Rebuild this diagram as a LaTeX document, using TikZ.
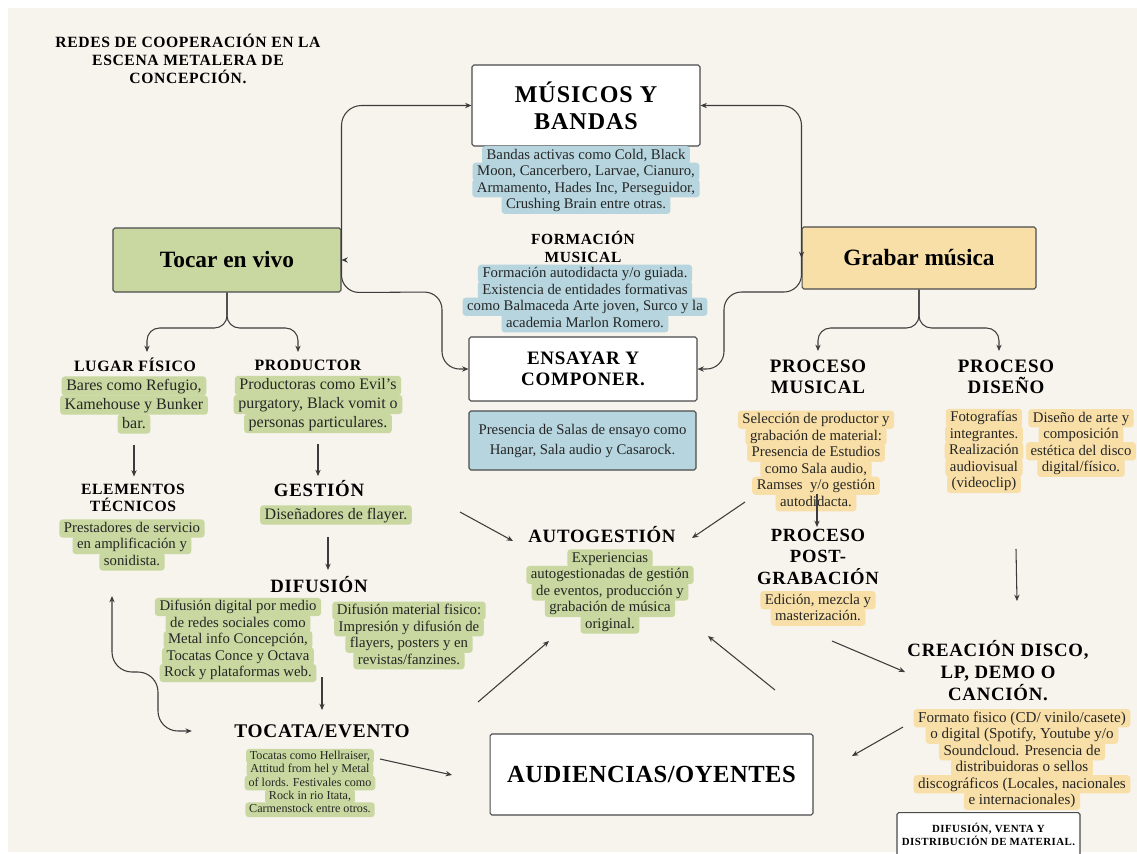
\documentclass[tikz,border=0pt]{standalone}
\usepackage{fontspec}
\setmainfont{Liberation Serif}
\newfontfamily\headfont[LetterSpace=4]{Liberation Serif}
\newfontfamily\bigfont[LetterSpace=2]{Liberation Serif}
\usepackage{tikz}
\usetikzlibrary{arrows.meta}
\usetikzlibrary{matrix}

\definecolor{papel}{RGB}{247,243,237}
\definecolor{verde}{RGB}{200,216,160}
\definecolor{azul}{RGB}{182,213,222}
\definecolor{amarillo}{RGB}{248,223,167}
\definecolor{borde}{RGB}{75,75,75}
\definecolor{linea}{RGB}{60,60,60}

\newcommand{\txt}{\fontsize{8.4}{9.4}\selectfont}
\newcommand{\txtsm}{\fontsize{6.9}{7.6}\selectfont}
\newcommand{\txtfo}{\fontsize{8.6}{9.45}\selectfont}
\newcommand{\txtbig}{\fontsize{9.1}{10.8}\selectfont}

\tikzset{
  box/.style={draw=borde, line width=0.6pt, rounded corners=1pt, align=center, inner sep=0pt},
  head/.style 2 args={font={\headfont\bfseries\fontsize{#1}{#2}\selectfont}, align=center, inner sep=0pt},
  hl/.style={matrix of nodes, inner sep=0pt, row sep=-0.9pt,
    nodes={fill=#1, rounded corners=1.8pt, inner xsep=2.6pt, inner ysep=1pt,
      text height=6.3pt, text depth=2pt, font=\txt, text=black!85}},
  hlbig/.style={row sep=-0.2pt, nodes={font=\txtbig, text height=6.8pt, text depth=2.2pt}},
  arr/.style={draw=linea, line width=0.6pt, -{Stealth[length=3.6pt,width=3pt]}},
}

\begin{document}
\begin{tikzpicture}[x=0.02cm, y=-0.02cm]

\useasboundingbox (0,0) rectangle (1137,853);
\fill[white] (0,0) rectangle (1137,853);
\fill[papel] (8,8) rectangle (1137,852);

% titulo
\node[head={8.9}{10.4}] (titulo) at (188,59) {REDES DE COOPERACIÓN EN LA\\ESCENA METALERA DE\\CONCEPCIÓN.};

% centro
\node[box, fill=white, minimum width=4.56cm, minimum height=1.62cm, font={\headfont\bfseries\fontsize{13.7}{15.4}\selectfont}] (musicos) at (586,105.5) {MÚSICOS Y\\BANDAS};
\matrix[hl=azul] (bandas) at (586,180) {
Bandas activas como Cold, Black\\
Moon, Cancerbero, Larvae, Cianuro,\\
Armamento, Hades Inc, Perseguidor,\\
Crushing Brain entre otras.\\
};
\node[head={8.8}{10.2}] (formacion) at (583,247) {FORMACIÓN\\MUSICAL};
\matrix[hl=azul] (formtxt) at (585,298.5) {
Formación autodidacta y/o guiada.\\
Existencia de entidades formativas\\
como Balmaceda Arte joven, Surco y la\\
academia Marlon Romero.\\
};
\node[box, fill=white, minimum width=4.56cm, minimum height=1.28cm, font={\headfont\bfseries\fontsize{10.8}{11.8}\selectfont}] (ensayar) at (583,369) {ENSAYAR Y\\COMPONER.};
\node[box, fill=azul, minimum width=4.54cm, minimum height=1.18cm, font={\fontsize{8.4}{11.4}\selectfont}, text=black!85] (salas) at (582.5,440.5) {Presencia de Salas de ensayo como\\Hangar, Sala audio y Casarock.};

% tocar en vivo
\node[box, fill=verde, minimum width=4.56cm, minimum height=1.28cm, font={\bfseries\fontsize{13.3}{15}\selectfont}] (tocar) at (227,260) {Tocar en vivo};
\node[head={9}{10}] (lugar) at (135,365) {LUGAR FÍSICO};
\matrix[hl=verde, hlbig] (bares) at (134,405) {
Bares como Refugio,\\
Kamehouse y Bunker\\
bar.\\
};
\node[head={9}{10}] (productor) at (308,365) {PRODUCTOR};
\matrix[hl=verde, hlbig] (productoras) at (318,404.5) {
Productoras como Evil’s\\
purgatory, Black vomit o\\
personas particulares.\\
};
\node[head={8.9}{10.1}] (elementos) at (133,498) {ELEMENTOS\\TÉCNICOS};
\matrix[hl=verde] (prestadores) at (132,545) {
Prestadores de servicio\\
en amplificación y\\
sonidista.\\
};
\node[head={10.7}{12}] (gestion) at (319,489) {GESTIÓN};
\matrix[hl=verde, hlbig] (flayer) at (336,515) {
Diseñadores de flayer.\\
};
\node[head={10.7}{12}] (difusion) at (319,585) {DIFUSIÓN};
\matrix[hl=verde] (difdigital) at (238,640) {
Difusión digital por medio\\
de redes sociales como\\
Metal info Concepción,\\
Tocatas Conce y Octava\\
Rock y plataformas web.\\
};
\matrix[hl=verde] (difmaterial) at (409,635.5) {
Difusión material fisico:\\
Impresión y difusión de\\
flayers, posters y en\\
revistas/fanzines.\\
};
\node[head={11}{12}] (tocata) at (322,731) {TOCATA/EVENTO};
\matrix[hl=verde, row sep=-0.8pt, nodes={font=\txtsm, text height=5.2pt, text depth=1.6pt, inner ysep=0.8pt, inner xsep=2.2pt}] (tocatas) at (310,783) {
Tocatas como Hellraiser,\\
Attitud from hel y Metal\\
of lords. Festivales como\\
Rock in rio Itata,\\
Carmenstock entre otros.\\
};
\node[head={10.7}{12}] (autogestion) at (602,535) {AUTOGESTIÓN};
\matrix[hl=verde] (experiencias) at (610,591.5) {
Experiencias\\
autogestionadas de gestión\\
de eventos, producción y\\
grabación de música\\
original.\\
};
\node[box, fill=white, minimum width=6.46cm, minimum height=1.62cm, font={\bigfont\bfseries\fontsize{14}{16}\selectfont}] (audiencias) at (651.5,774.5) {AUDIENCIAS/OYENTES};

% grabar musica
\node[box, fill=amarillo, minimum width=4.68cm, minimum height=1.24cm, font={\bfseries\fontsize{13.3}{15}\selectfont}] (grabar) at (919,258) {Grabar música};
\node[head={10.8}{12}] (procmusical) at (818,376.5) {PROCESO\\MUSICAL};
\matrix[hl=amarillo] (seleccion) at (816,461) {
Selección de productor y\\
grabación de material:\\
Presencia de Estudios\\
como Sala audio,\\
Ramses\ \ y/o gestión\\
autodidacta.\\
};
\node[head={10.8}{12}] (procdiseno) at (1006,376.5) {PROCESO\\DISEÑO};
\matrix[hl=amarillo] (fotos) at (984,451) {
Fotografías\\
integrantes.\\
Realización\\
audiovisual\\
(videoclip)\\
};
\matrix[hl=amarillo] (arte) at (1081,443) {
Diseño de arte y\\
composición\\
estética del disco\\
digital/físico.\\
};
\node[head={10.6}{12.2}] (postgrab) at (818,556.5) {PROCESO\\POST-\\GRABACIÓN};
\matrix[hl=amarillo] (edicion) at (818,608.5) {
Edición, mezcla y\\
masterización.\\
};
\node[head={10.7}{12.5}] (creacion) at (998,671) {CREACIÓN DISCO,\\LP, DEMO O\\CANCIÓN.};
\matrix[hl=amarillo, nodes={font=\txtfo}] (formato) at (1022,759.5) {
Formato fisico (CD/ vinilo/casete)\\
o digital (Spotify, Youtube y/o\\
Soundcloud. Presencia de\\
distribuidoras o sellos\\
discográficos (Locales, nacionales\\
e internacionales)\\
};
\node[box, fill=white, minimum width=3.66cm, minimum height=1.4cm, anchor=north] (venta) at (988.5,812) {};
\node[head={6.2}{7.4}] (ventatxt) at (988.5,834.5) {DIFUSIÓN, VENTA Y\\DISTRIBUCIÓN DE MATERIAL.};

% conectores grandes
\draw[arr, rounded corners=0.4cm] (tocar.east) -- (tocar.east |- musicos.west) -- (musicos.west);
\coordinate (lcurva) at (442,292);
\draw[arr, rounded corners=0.35cm] (tocar.east) -- (tocar.south east) -- (lcurva) -- (lcurva |- ensayar.west) -- (ensayar.west);
\draw[arr] ([xshift=2.5pt]tocar.east) -- (tocar.east);
\draw[arr, rounded corners=0.4cm] (grabar.west) -- (grabar.west |- musicos.east) -- (musicos.east);
\coordinate (rcurva) at (724,292);
\draw[arr, rounded corners=0.35cm] (grabar.west) -- (grabar.west |- rcurva) -- (rcurva) -- (rcurva |- ensayar.east) -- (ensayar.east);
\draw[arr] ([yshift=2.5pt]grabar.west) -- (grabar.west);

% ramas
\coordinate (lugarin) at (147,352);
\coordinate (prodin) at (298,352);
\draw[arr, rounded corners=0.25cm] (tocar.south) -- (tocar.south |- 0,328) -| (lugarin);
\draw[arr, rounded corners=0.25cm] (tocar.south) -- (tocar.south |- 0,328) -| (prodin);
\coordinate (musin) at (818,351);
\coordinate (disin) at (999,351);
\draw[arr, rounded corners=0.25cm] (grabar.south) -- (grabar.south |- 0,328) -| (musin);
\draw[arr, rounded corners=0.25cm] (grabar.south) -- (grabar.south |- 0,328) -| (disin);

% flechas verticales
\draw[arr, shorten <=6pt, shorten >=4pt] (bares.south) -- (bares.south |- elementos.north);
\draw[arr, shorten <=6pt, shorten >=2.5pt] (productoras.south) -- (productoras.south |- gestion.north);
\coordinate (flayout) at (328,537);
\coordinate (difin) at (328,570);
\draw[arr] (flayout) -- (difin);
\coordinate (difout) at (322,677);
\draw[arr, shorten >=8pt] (difout) -- (tocata.north);
\coordinate (elemin) at (112,596);
\draw[arr, {Stealth[length=3.6pt,width=3pt]}-{Stealth[length=3.6pt,width=3pt]}, rounded corners=0.4cm] (elemin) -- (112,672) -- (158,672) -- (158,731) -- ([xshift=-24pt]tocata.west);
\coordinate (selout) at (817,494);
\draw[arr] (selout) -- (817,527);
\coordinate (disout) at (1016,549);
\draw[arr] (disout) -- (1017,601);

% flechas diagonales
\coordinate (gesout) at (460,512);
\coordinate (autoin1) at (513,541);
\draw[arr] (gesout) -- (autoin1);
\coordinate (musout) at (745,502);
\coordinate (autoin2) at (692,538);
\draw[arr] (musout) -- (autoin2);
\coordinate (audout1) at (478,702);
\coordinate (autoin3) at (549,641);
\draw[arr] (audout1) -- (autoin3);
\coordinate (audout2) at (775,690);
\coordinate (autoin4) at (708,636);
\draw[arr] (audout2) -- (autoin4);
\coordinate (edout) at (832,641);
\coordinate (crein) at (905,672);
\draw[arr] (edout) -- (crein);
\coordinate (forout) at (903,727);
\coordinate (audin1) at (852,756);
\draw[arr] (forout) -- (audin1);
\coordinate (tocout) at (380,759);
\coordinate (audin2) at (452,775);
\draw[arr] (tocout) -- (audin2);

\end{tikzpicture}
\end{document}
